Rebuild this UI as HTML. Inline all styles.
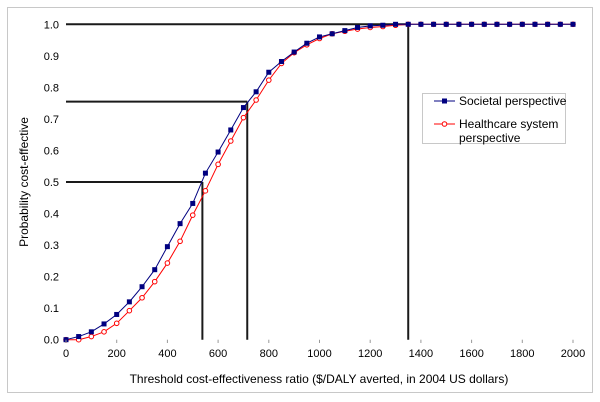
<!DOCTYPE html>
<html><head><meta charset="utf-8"><style>
body{margin:0;background:#fff;}
svg{display:block;font-family:"Liberation Sans",Arial,sans-serif;}
</style></head><body>
<svg id="chart" width="600" height="402" viewBox="0 0 600 402">
<rect x="7.5" y="7.5" width="585" height="385" fill="#fff" stroke="#c8c8c8"/>
<g id="grid"></g>
<g id="refs"></g>
<g id="series"></g>
<g id="axes"></g>
<text x="319" y="383" font-size="12" text-anchor="middle" fill="#000">Threshold cost-effectiveness ratio ($/DALY averted, in 2004 US dollars)</text>
<text transform="translate(28,182) rotate(-90)" font-size="12" text-anchor="middle" fill="#000">Probability cost-effective</text>
<g>
<rect x="422.5" y="93.5" width="143" height="50" fill="#fff" stroke="#c8c8c8"/>
<line x1="434" y1="101" x2="455" y2="101" stroke="#000080" stroke-width="1"/>
<rect x="442" y="98.5" width="5" height="5" fill="#000080"/>
<text x="459" y="105" font-size="12">Societal perspective</text>
<line x1="434" y1="124" x2="455" y2="124" stroke="#ff0000" stroke-width="1"/>
<circle cx="444.5" cy="124" r="2.3" fill="#fff" stroke="#ff0000"/>
<text x="459" y="128" font-size="12">Healthcare system</text>
<text x="459" y="142" font-size="12">perspective</text>
</g>
</svg>
<script>
const xTicks=[0,200,400,600,800,1000,1200,1400,1600,1800,2000];
const yTicks=[0,0.1,0.2,0.3,0.4,0.5,0.6,0.7,0.8,0.9,1.0];
const thresholds=[0,50,100,150,200,250,300,350,400,450,500,550,600,650,700,750,800,850,900,950,1000,1050,1100,1150,1200,1250,1300,1350,1400,1450,1500,1550,1600,1650,1700,1750,1800,1850,1900,1950,2000];
const societal=[0,0.01,0.025,0.05,0.08,0.12,0.168,0.222,0.295,0.368,0.432,0.528,0.595,0.665,0.736,0.786,0.848,0.882,0.912,0.94,0.96,0.97,0.98,0.99,0.995,0.997,1,1,1,1,1,1,1,1,1,1,1,1,1,1,1];
const healthcare=[0,0,0.01,0.025,0.052,0.092,0.133,0.184,0.243,0.312,0.395,0.472,0.556,0.63,0.704,0.76,0.823,0.876,0.91,0.935,0.955,0.97,0.978,0.985,0.99,0.993,0.997,1,1,1,1,1,1,1,1,1,1,1,1,1,1];
const refX=[538,715,1350];
const refY=[0.5,0.755,1.0];
const X=v=>66+v*(573-66)/2000;
const Y=v=>339.7-v*(339.7-24.3);
const NS="http://www.w3.org/2000/svg";
function mk(tag,attrs,parent){const e=document.createElementNS(NS,tag);for(const k in attrs)e.setAttribute(k,attrs[k]);parent.appendChild(e);return e;}
const axes=document.getElementById('axes');
xTicks.forEach(t=>{
 const l=mk('line',{x1:X(t),x2:X(t),y1:339.7,y2:343,stroke:'#999'},axes);
 
 
 const tx=mk('text',{x:X(t),y:357,'font-size':11,'text-anchor':'middle',fill:'#000'},axes);
 tx.textContent=t;
 
 
});
yTicks.forEach(t=>{
 const tx=mk('text',{x:59,y:Y(t)+4,'font-size':11,'text-anchor':'end',fill:'#000'},axes);
 tx.textContent=t.toFixed(1);
 
 
});
const refs=document.getElementById('refs');
refX.forEach((rx,i)=>{
 const h=mk('line',{x1:X(0),x2:X(rx),y1:Y(refY[i]),y2:Y(refY[i]),stroke:'#1a1a1a','stroke-width':2},refs);
 
 
 const v=mk('line',{x1:X(rx),x2:X(rx),y1:Y(refY[i]),y2:Y(0),stroke:'#1a1a1a','stroke-width':2},refs);
 
 
});
const sg=document.getElementById('series');
function draw(vals,color,name,marker){
 const p=mk('polyline',{points:thresholds.map((t,i)=>X(t)+','+Y(vals[i])).join(' '),fill:'none',stroke:color,'stroke-width':1},sg);
 
 
 thresholds.forEach((t,i)=>{
  let m;
  if(marker==='sq') m=mk('rect',{x:X(t)-2.5,y:Y(vals[i])-2.5,width:5,height:5,fill:color},sg);
  else m=mk('circle',{cx:X(t),cy:Y(vals[i]),r:2.3,fill:'#fff',stroke:color},sg);
  
  
 });
}
draw(healthcare,'#ff0000','healthcare','circ');
draw(societal,'#000080','societal','sq');
</script>
</body></html>
